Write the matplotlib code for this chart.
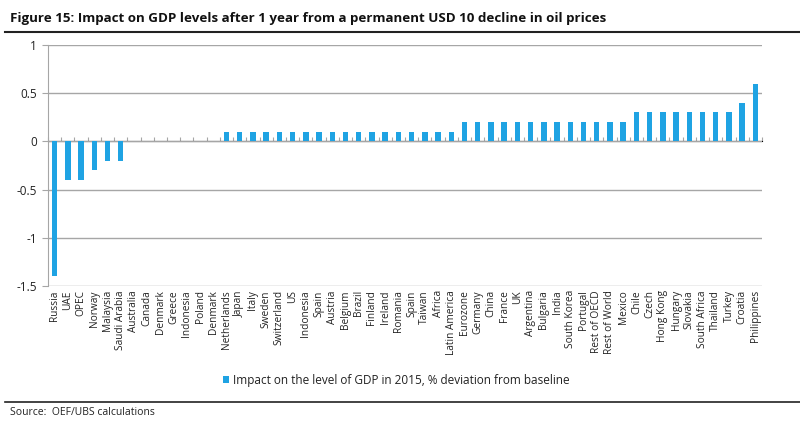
import matplotlib
matplotlib.use("Agg")
import matplotlib.pyplot as plt
import numpy as np

categories = ["Russia", "UAE", "OPEC", "Norway", "Malaysia", "Saudi Arabia",
              "Australia", "Canada", "Denmark", "Greece", "Indonesia", "Poland", "Denmark",
              "Netherlands", "Japan", "Italy", "Sweden", "Switzerland", "US", "Indonesia",
              "Spain", "Austria", "Belgium", "Brazil", "Finland", "Ireland", "Romania",
              "Spain", "Taiwan", "Africa", "Latin America",
              "Eurozone", "Germany", "China", "France", "UK", "Argentina", "Bulgaria",
              "India", "South Korea", "Portugal", "Rest of OECD", "Rest of World", "Mexico",
              "Chile", "Czech", "Hong Kong", "Hungary", "Slovakia", "South Africa",
              "Thailand", "Turkey", "Croatia", "Philippines"]
values = [-1.4, -0.4, -0.4, -0.3, -0.2, -0.2,
          0, 0, 0, 0, 0, 0, 0,
          0.1, 0.1, 0.1, 0.1, 0.1, 0.1, 0.1, 0.1, 0.1, 0.1, 0.1, 0.1, 0.1, 0.1,
          0.1, 0.1, 0.1, 0.1,
          0.2, 0.2, 0.2, 0.2, 0.2, 0.2, 0.2, 0.2, 0.2, 0.2, 0.2, 0.2, 0.2,
          0.3, 0.3, 0.3, 0.3, 0.3, 0.3, 0.3, 0.3, 0.4, 0.6]
yticks = [-1.5, -1, -0.5, 0, 0.5, 1]
ytick_labels = ["-1.5", "-1", "-0.5", "0", "0.5", "1"]
title = "Figure 15: Impact on GDP levels after 1 year from a permanent USD 10 decline in oil prices"
legend_label = "Impact on the level of GDP in 2015, % deviation from baseline"
source = "Source:  OEF/UBS calculations"

plt.rcParams['font.family'] = ['Open Sans', 'DejaVu Sans']
bar_color = "#1fa3e3"
grid_color = "#a6a6a6"

fig = plt.figure(figsize=(8, 4.24), dpi=100)
ax = fig.add_axes([0.06, 0.3255, 0.8925, 0.5685])

x = np.arange(len(categories))
ax.bar(x, values, width=0.42, color=bar_color, zorder=3, label=legend_label)

ax.set_xlim(-0.5, len(categories) - 0.5)
ax.set_ylim(-1.5, 1)
ax.set_yticks(yticks)
ax.set_yticklabels(ytick_labels, fontsize=8.5, color="#222222")
ax.set_xticks(x)
ax.set_xticklabels(categories, rotation=90, fontsize=7.3, color="#222222")
ax.tick_params(axis='x', length=0, pad=3)
ax.tick_params(axis='y', length=4, color=grid_color, pad=4)
ax.yaxis.grid(True, color=grid_color, linewidth=1)
for s in ["top", "right", "bottom"]:
    ax.spines[s].set_visible(False)
ax.spines["left"].set_color(grid_color)

# zero line with category boundary ticks
sec = ax.secondary_xaxis(0.6)
sec.set_xticks(np.arange(len(categories) + 1) - 0.5)
sec.set_xticklabels([])
sec.tick_params(length=3, color=grid_color, direction='out')
sec.spines["bottom"].set_color(grid_color)
sec.spines["bottom"].set_linewidth(1)

leg = fig.legend(loc="center", bbox_to_anchor=(0.495, 0.103), frameon=False,
                 fontsize=8.5, handlelength=0.55, handleheight=0.55, handletextpad=0.3)
for t in leg.get_texts():
    t.set_color("#222222")

fig.text(0.0125, 0.972, title, fontsize=9.6, fontweight="bold", va="top", ha="left", color="#111111")
fig.add_artist(plt.Line2D([0.006, 1.0], [0.925, 0.925], color="#222222", linewidth=1.5))
fig.add_artist(plt.Line2D([0.006, 1.0], [0.052, 0.052], color="#222222", linewidth=1.2))
fig.text(0.0125, 0.028, source, fontsize=7.5, va="center", ha="left", color="#222222")

fig.savefig("out.png", dpi=100)
